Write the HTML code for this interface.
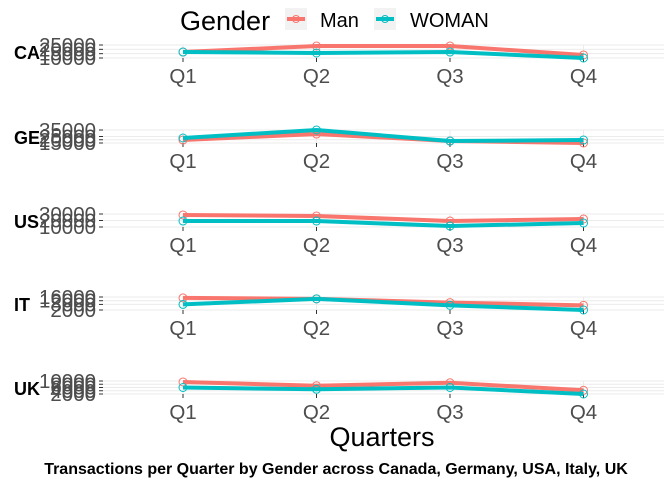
<!DOCTYPE html>
<html><head><meta charset="utf-8"><style>
body{margin:0;background:#fff;}
svg{display:block;font-family:"Liberation Sans",sans-serif;}
</style></head><body>
<svg id="chart" width="672" height="480" xmlns="http://www.w3.org/2000/svg">
<g id="legend">
<text x="180" y="30" font-size="27" fill="#000">Gender</text>
<g>
<rect x="285" y="8" width="22" height="22" fill="#f2f2f2"/>
<line x1="287" y1="19" x2="305" y2="19" stroke="#F8766D" stroke-width="4"/>
<circle cx="296" cy="19" r="3.5" fill="none" stroke="#F8766D" stroke-width="1"/>
<text x="320" y="27" font-size="20" fill="#000">Man</text></g>
<g>
<rect x="374" y="8" width="22" height="22" fill="#f2f2f2"/>
<line x1="376" y1="19" x2="394" y2="19" stroke="#00BFC4" stroke-width="4"/>
<circle cx="385" cy="19" r="3.5" fill="none" stroke="#00BFC4" stroke-width="1"/>
<text x="410" y="27" font-size="20" fill="#000">WOMAN</text></g>
</g>
<g id="panels"></g>
<text x="382" y="446" font-size="27" text-anchor="middle" fill="#000">Quarters</text>
<text x="336" y="474" font-size="16" font-weight="bold" text-anchor="middle" fill="#000">Transactions per Quarter by Gender across Canada, Germany, USA, Italy, UK</text>
</svg>
<script>
const quarters = ["Q1","Q2","Q3","Q4"];
const countries = ["CA","GE","US","IT","UK"];
const manCA = [16900,23800,23800,13500];
const womanCA = [16900,15800,16900,10000];
const manGE = [19600,28800,18000,15000];
const womanGE = [22700,35000,18000,19600];
const manUS = [28500,27000,19200,22300];
const womanUS = [19200,19200,11500,16200];
const manIT = [15000,14000,10000,7000];
const womanIT = [8000,14000,7000,2000];
const manUK = [9400,7100,8900,4300];
const womanUK = [6000,4900,6000,2000];
const tickCA = ["10000","15000","20000","25000"];
const tickGE = ["15000","20000","25000","35000"];
const tickUS = ["10000","20000","30000"];
const tickIT = ["2000","8000","12000","16000"];
const tickUK = ["2000","4000","6000","8000","10000"];
const domains = [[10000,25000],[15000,35000],[10000,30000],[2000,16000],[2000,10000]];

const man = [manCA,manGE,manUS,manIT,manUK];
const woman = [womanCA,womanGE,womanUS,womanIT,womanUK];
const ticks = [tickCA,tickGE,tickUS,tickIT,tickUK];
const tops = [45,130,214,297,381];
const ph = 13;
const NS = "http://www.w3.org/2000/svg";
const g = document.getElementById('panels');
function xs(i){return 183 + i*133.5;}
function mk(tag, attrs, parent){const e=document.createElementNS(NS,tag);for(const k in attrs)e.setAttribute(k,attrs[k]);parent.appendChild(e);return e;}
countries.forEach((c,p)=>{
  const top=tops[p], [lo,hi]=domains[p];
  const ys=v=>top+ph-(v-lo)/(hi-lo)*ph;
  const pg=mk('g',{},g);
  
  
  ticks[p].forEach(t=>{
    const v=+t, y=ys(v);
    const gl=mk('line',{x1:103,x2:664,y1:y,y2:y,stroke:'#ebebeb','stroke-width':1},pg);
    
    
    mk('line',{x1:99,x2:103,y1:y,y2:y,stroke:'#333','stroke-width':1},pg);
    const tl=mk('text',{x:96,y:y+7,'font-size':20.5,'text-anchor':'end',fill:'#4d4d4d'},pg);
    tl.textContent=t;
    
    
  });
  const strip=mk('text',{x:14,y:top+14,'font-size':18,'font-weight':'bold',fill:'#000'},pg);
  strip.textContent=c;
  
  
  quarters.forEach((q,i)=>{
    mk('line',{x1:xs(i),x2:xs(i),y1:top,y2:top+ph,stroke:'#ebebeb','stroke-width':1},pg);
    mk('line',{x1:xs(i),x2:xs(i),y1:top+ph,y2:top+ph+4,stroke:'#333','stroke-width':1},pg);
    const ql=mk('text',{x:xs(i),y:top+ph+25,'font-size':20.5,'text-anchor':'middle',fill:'#4d4d4d'},pg);
    ql.textContent=q;
    
    
  });
  [[man[p],'#F8766D','man'],[woman[p],'#00BFC4','woman']].forEach(([vals,col,nm])=>{
    const pts=vals.map((v,i)=>xs(i)+','+ys(v)).join(' ');
    const pl=mk('polyline',{points:pts,fill:'none',stroke:col,'stroke-width':4,'stroke-linejoin':'round'},pg);
    
    
    vals.forEach((v,i)=>{
      const pt=mk('circle',{cx:xs(i),cy:ys(v),r:4,fill:'none',stroke:col,'stroke-width':1},pg);
      
      
    });
  });
});
</script>
</body></html>
